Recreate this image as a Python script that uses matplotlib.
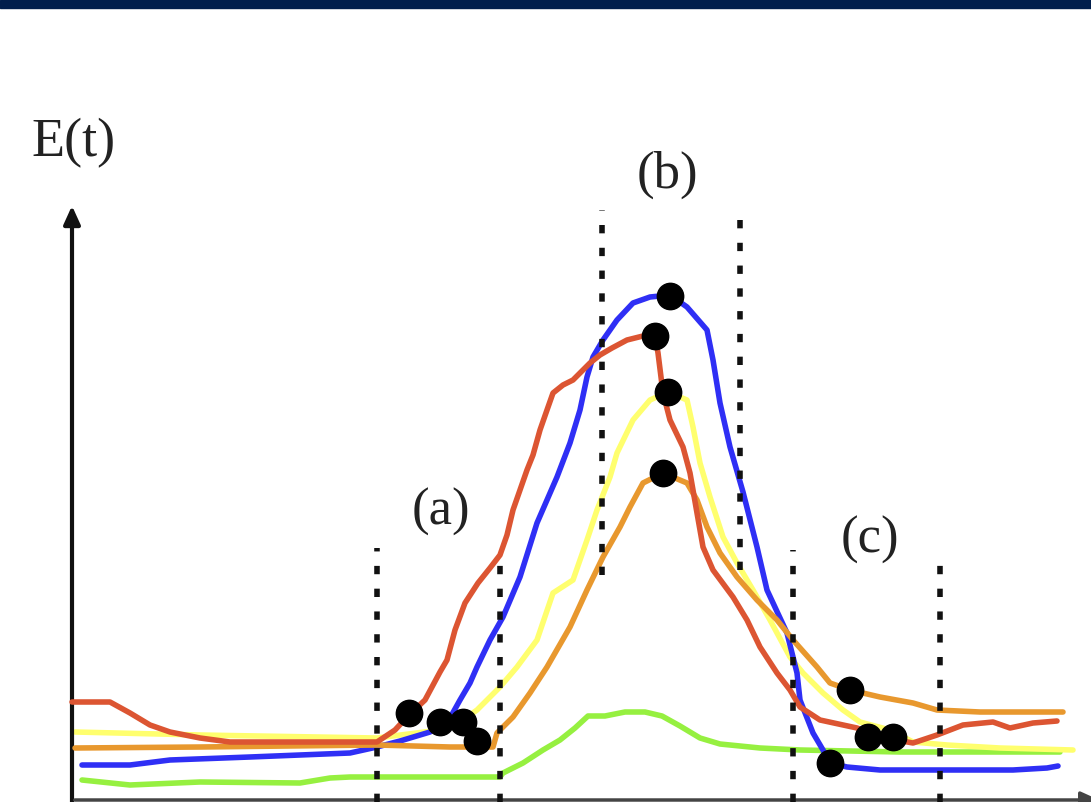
import matplotlib
matplotlib.use("Agg")
import matplotlib.pyplot as plt
from matplotlib.patches import Rectangle

# curves E(t), values (t, E in arbitrary units)
red_t = [0, 38, 58, 78, 98, 128, 158, 228, 305, 323, 336, 353, 368, 375, 383, 393, 406, 418, 428, 435,
         441, 448, 455, 461, 468, 475, 481, 491, 501, 518, 528, 540, 555, 575, 583, 586, 591, 598, 611, 618,
         621, 625, 631, 641, 661, 675, 688, 705, 718, 728, 748, 785, 808, 841, 865, 891, 921, 938, 961, 985]
red_e = [98, 98, 87, 75, 68, 62, 58, 58, 58, 70, 84, 100, 128, 140, 170, 197, 217, 232, 245, 265,
         290, 310, 330, 345, 370, 390, 407, 415, 420, 437, 445, 452, 460, 465, 464, 447, 407, 380, 353, 327,
         310, 287, 253, 230, 203, 180, 153, 127, 110, 93, 80, 72, 63, 57, 65, 75, 78, 72, 77, 79]

blue_t = [10, 58, 98, 178, 278, 305, 328, 358, 378, 388, 398, 405, 418, 431, 448, 465, 485, 498, 508, 515,
          521, 531, 545, 561, 578, 598, 615, 635, 641, 648, 658, 671, 685, 695, 715, 725, 728, 741, 751, 758,
          775, 808, 941, 975, 986]
blue_e = [35, 35, 40, 43, 47, 53, 59, 68, 82, 100, 117, 133, 160, 183, 223, 277, 323, 357, 390, 423,
          443, 460, 480, 497, 503, 505, 493, 470, 440, 397, 353, 308, 253, 210, 167, 127, 100, 67, 50, 37,
          33, 30, 30, 32, 34]

yellow_t = [3, 128, 305, 368, 388, 405, 428, 445, 465, 481, 501, 515, 525, 538, 545, 561, 578, 596, 615, 621,
            628, 638, 651, 665, 681, 698, 718, 731, 751, 771, 788, 818, 841, 875, 928, 1001]
yellow_e = [68, 65, 62, 70, 78, 90, 113, 133, 160, 207, 220, 260, 290, 323, 347, 380, 400, 408, 400, 373,
            337, 303, 263, 237, 210, 180, 143, 127, 107, 90, 78, 70, 58, 55, 52, 50]

orange_t = [3, 128, 305, 378, 421, 425, 441, 458, 475, 498, 515, 531, 548, 558, 571, 591, 615, 625, 635, 648,
            665, 685, 705, 721, 745, 758, 778, 808, 841, 865, 908, 991]
orange_e = [52, 53, 55, 53, 53, 67, 83, 107, 133, 173, 210, 243, 273, 293, 317, 327, 317, 300, 273, 247,
            223, 200, 180, 160, 133, 117, 110, 103, 97, 90, 88, 88]

green_t = [10, 58, 128, 228, 258, 278, 428, 431, 451, 471, 488, 503, 516, 533, 553, 573, 590, 608, 628, 648,
           688, 728, 828, 988]
green_e = [20, 15, 18, 17, 22, 23, 23, 27, 37, 50, 60, 72, 84, 84, 88, 88, 84, 74, 62, 56,
           52, 50, 48, 48]

# black points marking phase changes
dot_t = [337, 368, 391, 405, 598, 583, 596, 591, 778, 796, 821, 758]
dot_e = [87, 78, 78, 59, 504, 464, 408, 327, 110, 63, 63, 37]

# dotted phase boundaries: position, bottom, top
bound_t = [305, 428, 530, 668, 721, 868]
bound_lo = [-2, -2, 225, 230, -2, -2]
bound_hi = [252, 245, 590, 590, 250, 247]

phase_labels = ["(a)", "(b)", "(c)"]
phase_t = [369, 595, 798]
phase_e = [288, 625, 260]

fig = plt.figure(figsize=(10.91, 8.02), dpi=100)
ax = fig.add_axes([0, 0, 1, 1])
ax.set_xlim(-72, 1019)
ax.set_ylim(-2, 800)
ax.axis("off")

# navy strip along the top
fig.patches.append(Rectangle((0, 1 - 8 / 802), 1, 8 / 802, transform=fig.transFigure,
                             color="#011E4C", zorder=10))

lw = 4.0
ax.plot(green_t, green_e, color="#96F040", lw=lw, solid_joinstyle="round", solid_capstyle="round", zorder=2)
ax.plot(yellow_t, yellow_e, color="#FFFF6E", lw=lw, solid_joinstyle="round", solid_capstyle="round", zorder=3)
ax.plot(blue_t, blue_e, color="#2F2FF5", lw=lw, solid_joinstyle="round", solid_capstyle="round", zorder=4)
ax.plot(orange_t, orange_e, color="#E8982E", lw=lw, solid_joinstyle="round", solid_capstyle="round", zorder=5)
ax.plot(red_t, red_e, color="#DC5532", lw=lw, solid_joinstyle="round", solid_capstyle="round", zorder=6)

for t, lo, hi in zip(bound_t, bound_lo, bound_hi):
    ax.plot([t, t], [lo, hi], color="#111111", lw=4, linestyle=(0, (1.5, 2.6)), zorder=7)

ax.plot(dot_t, dot_e, "o", color="black", ms=19, zorder=8)

# axes with arrows
ax.annotate("", xy=(0, 597), xytext=(0, -5), annotation_clip=False,
            arrowprops=dict(arrowstyle="-|>,head_length=1.1,head_width=0.5", lw=3, color="#111111"))
ax.annotate("", xy=(1030, 0), xytext=(0, 0), annotation_clip=False,
            arrowprops=dict(arrowstyle="-|>,head_length=1.1,head_width=0.5", lw=2.5, color="#444444"))

for lab, t, e in zip(phase_labels, phase_t, phase_e):
    ax.text(t, e, lab, fontsize=38, family="Liberation Serif", color="#222222",
            ha="center", va="center")
ax.text(1, 657, "E(t)", fontsize=39, family="Liberation Serif", color="#222222",
        ha="center", va="center")

fig.savefig("out.png", dpi=100)
